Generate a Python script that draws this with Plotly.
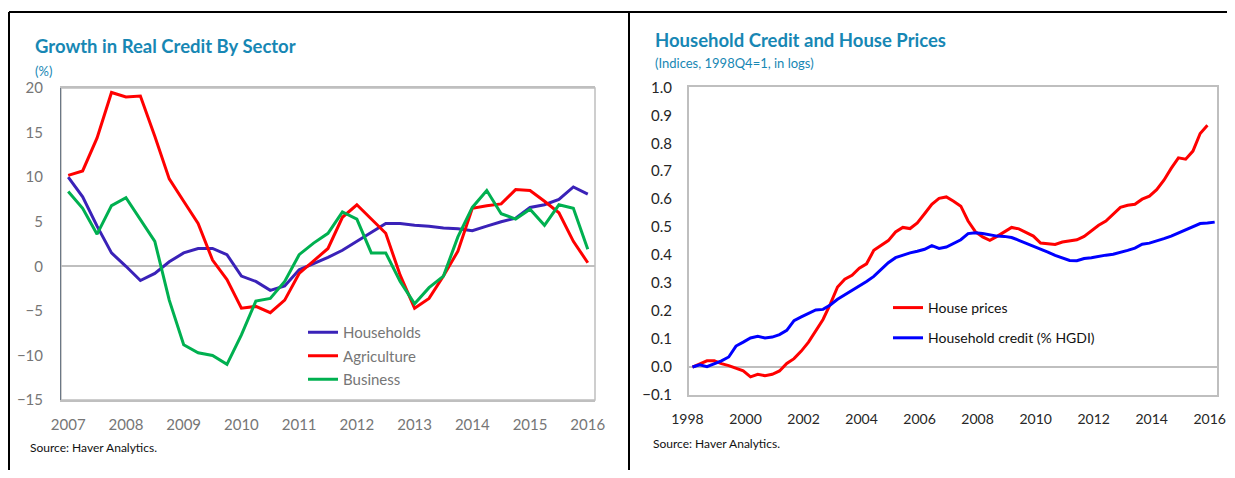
import plotly.graph_objects as go

# ---------------- Left chart data (quarterly, 2007Q1 .. 2016Q1) ----------------
left_years = [2007 + 0.25 * i for i in range(37)]
households = [10.0, 7.8, 4.5, 1.5, 0.0, -1.6, -0.8, 0.5, 1.5, 2.0, 2.0, 1.3,
              -1.1, -1.7, -2.7, -2.2, -0.4, 0.3, 1.0, 1.8, 2.8, 3.8, 4.8, 4.8,
              4.6, 4.5, 4.3, 4.2, 4.0, 4.5, 5.0, 5.4, 6.6, 6.9, 7.5, 8.9, 8.1]
agriculture = [10.2, 10.7, 14.4, 19.5, 19.0, 19.1, 14.6, 9.8, 7.3, 4.8, 0.7, -1.5,
               -4.7, -4.5, -5.2, -3.8, -0.8, 0.6, 2.0, 5.5, 6.9, 5.3, 3.7, -1.0,
               -4.7, -3.6, -1.1, 1.7, 6.5, 6.8, 7.0, 8.6, 8.5, 7.3, 6.0, 2.8, 0.4]
business = [8.4, 6.5, 3.6, 6.8, 7.7, 5.2, 2.8, -3.8, -8.8, -9.7, -10.0, -11.0,
            -7.7, -3.9, -3.6, -1.7, 1.3, 2.6, 3.7, 6.1, 5.3, 1.5, 1.5, -1.7,
            -4.2, -2.4, -1.1, 3.3, 6.6, 8.5, 5.9, 5.3, 6.4, 4.6, 6.9, 6.5, 1.9]
left_ticks = list(range(2007, 2017))

# ---------------- Right chart data (quarterly, 1998 .. 2016) ----------------
house_prices = [0.000, 0.012, 0.022, 0.022, 0.012, 0.005, -0.004, -0.014, -0.035, -0.026,
                -0.031, -0.026, -0.014, 0.013, 0.030, 0.057, 0.089, 0.132, 0.170, 0.225,
                0.286, 0.314, 0.328, 0.353, 0.369, 0.417, 0.433, 0.452, 0.483, 0.499,
                0.495, 0.515, 0.548, 0.582, 0.603, 0.608, 0.593, 0.575, 0.522, 0.484,
                0.465, 0.453, 0.467, 0.484, 0.499, 0.494, 0.482, 0.468, 0.443, 0.441,
                0.438, 0.447, 0.450, 0.455, 0.467, 0.487, 0.507, 0.522, 0.547, 0.571,
                0.578, 0.582, 0.600, 0.611, 0.634, 0.668, 0.710, 0.748, 0.743, 0.772,
                0.835, 0.864]
household_credit = [0.000, 0.008, 0.001, 0.012, 0.022, 0.036, 0.075, 0.089, 0.104, 0.110,
                    0.104, 0.107, 0.116, 0.131, 0.166, 0.179, 0.191, 0.204, 0.206, 0.222,
                    0.242, 0.258, 0.271, 0.288, 0.306, 0.324, 0.349, 0.373, 0.391, 0.400,
                    0.408, 0.414, 0.421, 0.434, 0.424, 0.429, 0.443, 0.455, 0.477, 0.480,
                    0.477, 0.473, 0.468, 0.467, 0.463, 0.453, 0.443, 0.433, 0.423, 0.411,
                    0.399, 0.391, 0.381, 0.380, 0.388, 0.391, 0.396, 0.400, 0.403, 0.409,
                    0.417, 0.425, 0.439, 0.443, 0.450, 0.459, 0.468, 0.479, 0.491, 0.500,
                    0.513, 0.515, 0.518]
right_years_hp = [1998 + 0.25 * i for i in range(len(house_prices))]
right_years_hc = [1998 + 0.25 * i for i in range(len(household_credit))]
right_ticks = list(range(1998, 2017, 2))

# The page body has an 8px margin on every side, so the figure is sized to fit inside it
OFF = 8
W, H = 1235 - 2 * OFF, 478 - 2 * OFF
FONT = "Lato"
TITLE_COLOR = "#1787B4"
GRAY_TXT = "#767676"
BORDER = "#BFBFBF"


def px(x):
    """window pixel x -> paper fraction"""
    return (x - OFF) / W


def py(y):
    """window pixel y -> paper fraction"""
    return 1 - (y - OFF) / H


fig = go.Figure()

fig.add_trace(go.Scatter(x=left_years, y=households, name="Households", mode="lines",
                         line=dict(color="#3A22B8", width=3), xaxis="x", yaxis="y",
                         legend="legend", legendgroup="h"))
fig.add_trace(go.Scatter(x=left_years, y=agriculture, name="Agriculture", mode="lines",
                         line=dict(color="#FF0000", width=3), xaxis="x", yaxis="y",
                         legend="legend", legendgroup="ag"))
fig.add_trace(go.Scatter(x=left_years, y=business, name="Business", mode="lines",
                         line=dict(color="#00B050", width=3), xaxis="x", yaxis="y",
                         legend="legend", legendgroup="bu"))

fig.add_trace(go.Scatter(x=right_years_hp, y=house_prices, name="House prices", mode="lines",
                         line=dict(color="#FF0000", width=3), xaxis="x2", yaxis="y2",
                         legend="legend2", legendgroup="a"))
fig.add_trace(go.Scatter(x=right_years_hc, y=household_credit, name="Household credit (% HGDI)",
                         mode="lines", line=dict(color="#0000FF", width=3), xaxis="x2", yaxis="y2",
                         legend="legend2", legendgroup="b"))

fig.update_layout(
    width=W, height=H, autosize=False,
    margin=dict(l=0, r=0, t=0, b=0, pad=0, autoexpand=False),
    paper_bgcolor="white", plot_bgcolor="white",
    font=dict(family=FONT),
    showlegend=True,
    xaxis=dict(domain=[px(61), px(595)], range=[2006.875, 2016.125], anchor="y",
               tickmode="array", tickvals=left_ticks, ticktext=[str(t) for t in left_ticks],
               showgrid=False, zeroline=False, showline=True, linecolor=BORDER, linewidth=1.5,
               mirror=True, ticks="", ticklabelstandoff=10, automargin=False,
               tickfont=dict(family=FONT, size=15, color=GRAY_TXT)),
    yaxis=dict(domain=[py(400), py(88)], range=[-15, 20], dtick=5, anchor="x",
               showgrid=False, zeroline=True, zerolinecolor=BORDER, zerolinewidth=1.5,
               showline=True, linecolor="#6B7785", linewidth=1, ticks="", ticklabelstandoff=14,
               automargin=False,
               tickfont=dict(family=FONT, size=15, color=GRAY_TXT)),
    xaxis2=dict(domain=[px(688.7), px(1217.3)], range=[1997.87, 2016.09], anchor="y2",
                tickmode="array", tickvals=right_ticks, ticktext=[str(t) for t in right_ticks],
                showgrid=False, zeroline=False, showline=True, linecolor=BORDER, linewidth=1.5,
                mirror=True, ticks="", ticklabelstandoff=10, ticklabelshift=-5, automargin=False,
                ticklabeloverflow="allow",
                tickfont=dict(family=FONT, size=14, color="#262626")),
    yaxis2=dict(domain=[py(395), py(87.3)], range=[-0.1, 1.0], dtick=0.1, tickformat=".1f",
                showgrid=False, zeroline=True, zerolinecolor=BORDER, zerolinewidth=1.5,
                showline=True, linecolor=BORDER, linewidth=1.5, mirror=True,
                ticks="", ticklabelstandoff=12, anchor="x2", automargin=False,
                tickfont=dict(family=FONT, size=15, color="#262626")),
    legend=dict(x=px(303), y=py(316), xanchor="left", yanchor="top",
                bgcolor="rgba(0,0,0,0)", borderwidth=0, tracegroupgap=1,
                traceorder="grouped",
                font=dict(family=FONT, size=15, color=GRAY_TXT)),
    legend2=dict(x=px(888), y=py(292), xanchor="left", yanchor="top",
                 bgcolor="rgba(0,0,0,0)", borderwidth=0, tracegroupgap=9,
                 traceorder="grouped",
                 font=dict(family=FONT, size=14, color="#111111")),
)

# Left chart border (top/right/bottom light gray); left axis line drawn by yaxis
fig.add_shape(type="rect", xref="x domain", yref="y domain", x0=0, x1=1, y0=0, y1=1,
              line=dict(color=BORDER, width=1.5), layer="below")

# Frame lines
for (x0, y0, x1, y1) in [(9, 12, 1227, 12), (9, 12, 9, 470), (629, 12, 629, 470)]:
    fig.add_shape(type="line", xref="paper", yref="paper",
                  x0=px(x0), y0=py(y0), x1=px(x1), y1=py(y1),
                  line=dict(color="black", width=2))

annots = [
    dict(text="<b>Growth in Real Credit By Sector</b>", x=px(33), y=py(46), size=18.5, color=TITLE_COLOR),
    dict(text="(%)", x=px(33), y=py(71), size=13, color=TITLE_COLOR),
    dict(text="Source: Haver Analytics.", x=px(28), y=py(447), size=12, color="#111111"),
    dict(text="<b>Household Credit and House Prices</b>", x=px(653), y=py(40), size=18.5, color=TITLE_COLOR),
    dict(text="(Indices, 1998Q4=1, in logs)", x=px(653), y=py(63), size=13, color=TITLE_COLOR),
    dict(text="Source: Haver Analytics.", x=px(651), y=py(443), size=12, color="#111111"),
]
for a in annots:
    fig.add_annotation(text=a["text"], x=a["x"], y=a["y"], xref="paper", yref="paper",
                       xanchor="left", yanchor="middle", showarrow=False,
                       font=dict(family=FONT, size=a["size"], color=a["color"]))

fig.write_html("out.html")
